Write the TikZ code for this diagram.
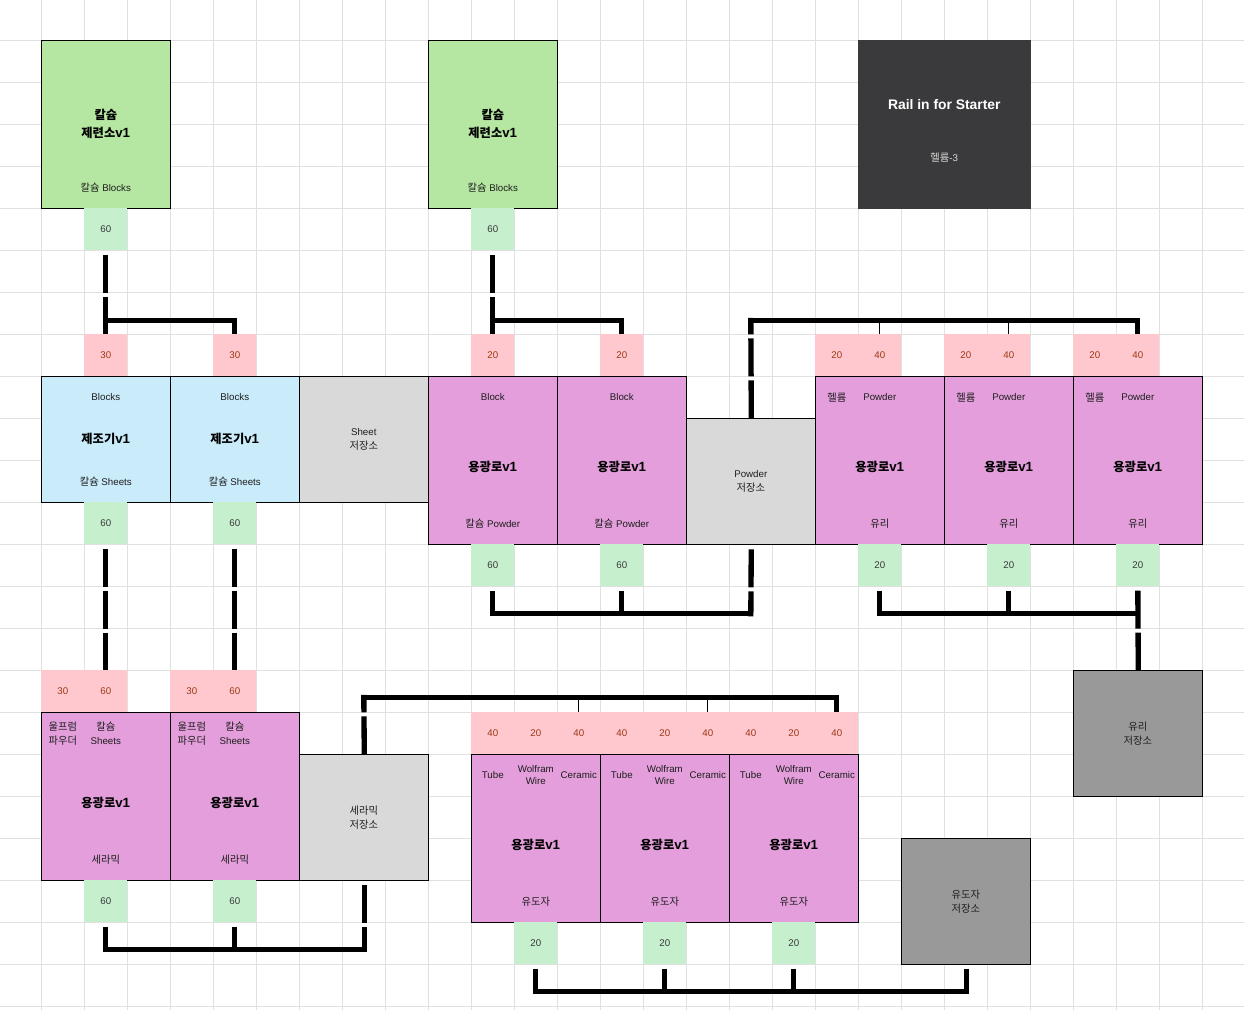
\documentclass[tikz,border=0pt]{standalone}
\usepackage{fontspec}
\setmainfont{Liberation Sans}
\newfontfamily\kr{Noto Sans CJK KR}[Scale=1.06]
\newfontfamily\krb{Noto Sans CJK KR}[Scale=0.92]
\definecolor{gbox}{HTML}{B5E6A2}
\definecolor{tagg}{HTML}{C6EFCE}
\definecolor{tagp}{HTML}{FFC7CE}
\definecolor{tagpt}{HTML}{9C3A14}
\definecolor{taggt}{HTML}{3A3A3A}
\definecolor{bbox}{HTML}{C9EBFA}
\definecolor{mbox}{HTML}{E39EDB}
\definecolor{lgray}{HTML}{D9D9D9}
\definecolor{dgray}{HTML}{999999}
\definecolor{darkbox}{HTML}{3A3A3C}
\definecolor{gridc}{HTML}{E0E0E0}
\definecolor{txt}{HTML}{1E1E1E}
\tikzset{
  cellw/.style={minimum width=#1*32.25pt},
  cellh/.style={minimum height=#1*31.5pt},
  box/.style={draw=black, line width=0.75pt, inner sep=0pt, anchor=north west},
  tagbase/.style={inner sep=0pt, minimum width=32.25pt, minimum height=31.5pt, font=\fontsize{7.3}{9}\selectfont},
  tagg/.style={tagbase, fill=tagg, text=taggt},
  tagp/.style={tagbase, fill=tagp, text=tagpt},
  lbl/.style={inner sep=0pt, align=center, text=txt, font=\fontsize{7.3}{10.5}\selectfont},
  lbltight/.style={inner sep=0pt, align=center, text=txt, font=\fontsize{7.3}{9}\selectfont},
  title/.style={inner sep=0pt, align=center, text=black, font=\fontsize{10}{13.5}\selectfont\bfseries},
  conn/.style={line width=4pt, line join=miter, black},
  vseg/.style={conn, dash pattern=on 28.5pt off 3pt, dash phase=#1},
  vseg/.default=28.5pt,
  thintick/.style={line width=1pt, black}
}
\begin{document}
\begin{tikzpicture}[x=32.25pt, y=-31.5pt]
\useasboundingbox (-0.96047,-0.95952) rectangle (27.9698,23.0881);
% grid
\foreach \i in {0,...,27} \draw[gridc, line width=0.75pt] (\i,-0.96) -- (\i,23.09);
\foreach \j in {0,...,23} \draw[gridc, line width=0.75pt] (-0.97,\j) -- (27.98,\j);

% ---------- top row ----------
\node[box, fill=gbox, cellw=3, cellh=4] (smA) at (0,0) {};
\node[title] (smAt) at (1.5,2) {{\krb 칼슘}\\{\krb 제련소}v1};
\node[lbl] (smAb) at (1.5,3.5) {{\kr 칼슘} Blocks};
\node[tagg] (gtA) at (1.5,4.5) {60};

\node[box, fill=gbox, cellw=3, cellh=4] (smB) at (9,0) {};
\node[title] (smBt) at (10.5,2) {{\krb 칼슘}\\{\krb 제련소}v1};
\node[lbl] (smBb) at (10.5,3.5) {{\kr 칼슘} Blocks};
\node[tagg] (gtB) at (10.5,4.5) {60};

\node[box, draw=darkbox, fill=darkbox, cellw=4, cellh=4] (rail) at (19,0) {};
\node[title, text=white, font=\fontsize{10.4}{13}\selectfont\bfseries] (railt) at (21,1.52) {Rail in for Starter};
\node[lbl, text=black!15] (railb) at (21,2.8) {{\kr 헬륨}-3};

% ---------- pink row r7 ----------
\node[tagp] (pA1) at (1.5,7.5) {30};
\node[tagp] (pA2) at (4.5,7.5) {30};
\node[tagp] (pB1) at (10.5,7.5) {20};
\node[tagp] (pB2) at (13.5,7.5) {20};
\node[tagp] (ph1a) at (18.5,7.5) {20};
\node[tagp] (ph1b) at (19.5,7.5) {40};
\node[tagp] (ph2a) at (21.5,7.5) {20};
\node[tagp] (ph2b) at (22.5,7.5) {40};
\node[tagp] (ph3a) at (24.5,7.5) {20};
\node[tagp] (ph3b) at (25.5,7.5) {40};

% ---------- row 8 machines ----------
\node[box, fill=bbox, cellw=3, cellh=3] (mk1) at (0,8) {};
\node[lbl] (mk1a) at (1.5,8.5) {Blocks};
\node[title] (mk1t) at (1.5,9.5) {{\krb 제조기}v1};
\node[lbl] (mk1b) at (1.5,10.5) {{\kr 칼슘} Sheets};

\node[box, fill=bbox, cellw=3, cellh=3] (mk2) at (3,8) {};
\node[lbl] (mk2a) at (4.5,8.5) {Blocks};
\node[title] (mk2t) at (4.5,9.5) {{\krb 제조기}v1};
\node[lbl] (mk2b) at (4.5,10.5) {{\kr 칼슘} Sheets};

\node[box, fill=lgray, cellw=3, cellh=3] (shs) at (6,8) {};
\node[lbl] (shst) at (7.5,9.5) {Sheet\\{\kr 저장소}};

\node[box, fill=mbox, cellw=3, cellh=4] (pf1) at (9,8) {};
\node[lbl] (pf1a) at (10.5,8.5) {Block};
\node[title] (pf1t) at (10.5,10.16) {{\krb 용광로}v1};
\node[lbl] (pf1b) at (10.5,11.5) {{\kr 칼슘} Powder};

\node[box, fill=mbox, cellw=3, cellh=4] (pf2) at (12,8) {};
\node[lbl] (pf2a) at (13.5,8.5) {Block};
\node[title] (pf2t) at (13.5,10.16) {{\krb 용광로}v1};
\node[lbl] (pf2b) at (13.5,11.5) {{\kr 칼슘} Powder};

\node[box, fill=lgray, cellw=3, cellh=3] (pws) at (15,9) {};
\node[lbl] (pwst) at (16.5,10.5) {Powder\\{\kr 저장소}};

\node[box, fill=mbox, cellw=3, cellh=4] (gf1) at (18,8) {};
\node[lbl] (gf1h) at (18.5,8.5) {{\kr 헬륨}};
\node[lbl] (gf1p) at (19.5,8.5) {Powder};
\node[title] (gf1t) at (19.5,10.16) {{\krb 용광로}v1};
\node[lbl] (gf1b) at (19.5,11.5) {{\kr 유리}};

\node[box, fill=mbox, cellw=3, cellh=4] (gf2) at (21,8) {};
\node[lbl] (gf2h) at (21.5,8.5) {{\kr 헬륨}};
\node[lbl] (gf2p) at (22.5,8.5) {Powder};
\node[title] (gf2t) at (22.5,10.16) {{\krb 용광로}v1};
\node[lbl] (gf2b) at (22.5,11.5) {{\kr 유리}};

\node[box, fill=mbox, cellw=3, cellh=4] (gf3) at (24,8) {};
\node[lbl] (gf3h) at (24.5,8.5) {{\kr 헬륨}};
\node[lbl] (gf3p) at (25.5,8.5) {Powder};
\node[title] (gf3t) at (25.5,10.16) {{\krb 용광로}v1};
\node[lbl] (gf3b) at (25.5,11.5) {{\kr 유리}};

% green tags
\node[tagg] (gS1) at (1.5,11.5) {60};
\node[tagg] (gS2) at (4.5,11.5) {60};
\node[tagg] (gP1) at (10.5,12.5) {60};
\node[tagg] (gP2) at (13.5,12.5) {60};
\node[tagg] (gG1) at (19.5,12.5) {20};
\node[tagg] (gG2) at (22.5,12.5) {20};
\node[tagg] (gG3) at (25.5,12.5) {20};

% glass storage
\node[box, fill=dgray, cellw=3, cellh=3] (gls) at (24,15) {};
\node[lbl] (glst) at (25.5,16.5) {{\kr 유리}\\{\kr 저장소}};

% ---------- lower left ----------
\node[tagp] (pc1a) at (0.5,15.5) {30};
\node[tagp] (pc1b) at (1.5,15.5) {60};
\node[tagp] (pc2a) at (3.5,15.5) {30};
\node[tagp] (pc2b) at (4.5,15.5) {60};

\node[box, fill=mbox, cellw=3, cellh=4] (cf1) at (0,16) {};
\node[lbl] (cf1a) at (0.5,16.5) {{\kr 울프럼}\\{\kr 파우더}};
\node[lbl] (cf1s) at (1.5,16.5) {{\kr 칼슘}\\Sheets};
\node[title] (cf1t) at (1.5,18.16) {{\krb 용광로}v1};
\node[lbl] (cf1b) at (1.5,19.5) {{\kr 세라믹}};

\node[box, fill=mbox, cellw=3, cellh=4] (cf2) at (3,16) {};
\node[lbl] (cf2a) at (3.5,16.5) {{\kr 울프럼}\\{\kr 파우더}};
\node[lbl] (cf2s) at (4.5,16.5) {{\kr 칼슘}\\Sheets};
\node[title] (cf2t) at (4.5,18.16) {{\krb 용광로}v1};
\node[lbl] (cf2b) at (4.5,19.5) {{\kr 세라믹}};

\node[box, fill=lgray, cellw=3, cellh=3] (cers) at (6,17) {};
\node[lbl] (cerst) at (7.5,18.5) {{\kr 세라믹}\\{\kr 저장소}};

\node[tagg] (gC1) at (1.5,20.5) {60};
\node[tagg] (gC2) at (4.5,20.5) {60};

% ---------- lower middle ----------
\node[tagp] (pi1) at (10.5,16.5) {40};
\node[tagp] (pi2) at (11.5,16.5) {20};
\node[tagp] (pi3) at (12.5,16.5) {40};
\node[tagp] (pi4) at (13.5,16.5) {40};
\node[tagp] (pi5) at (14.5,16.5) {20};
\node[tagp] (pi6) at (15.5,16.5) {40};
\node[tagp] (pi7) at (16.5,16.5) {40};
\node[tagp] (pi8) at (17.5,16.5) {20};
\node[tagp] (pi9) at (18.5,16.5) {40};

\node[box, fill=mbox, cellw=3, cellh=4] (if1) at (10,17) {};
\node[lbl] (if1a) at (10.5,17.5) {Tube};
\node[lbltight] (if1w) at (11.5,17.5) {Wolfram\\Wire};
\node[lbl] (if1c) at (12.5,17.5) {Ceramic};
\node[title] (if1t) at (11.5,19.16) {{\krb 용광로}v1};
\node[lbl] (if1b) at (11.5,20.5) {{\kr 유도자}};

\node[box, fill=mbox, cellw=3, cellh=4] (if2) at (13,17) {};
\node[lbl] (if2a) at (13.5,17.5) {Tube};
\node[lbltight] (if2w) at (14.5,17.5) {Wolfram\\Wire};
\node[lbl] (if2c) at (15.5,17.5) {Ceramic};
\node[title] (if2t) at (14.5,19.16) {{\krb 용광로}v1};
\node[lbl] (if2b) at (14.5,20.5) {{\kr 유도자}};

\node[box, fill=mbox, cellw=3, cellh=4] (if3) at (16,17) {};
\node[lbl] (if3a) at (16.5,17.5) {Tube};
\node[lbltight] (if3w) at (17.5,17.5) {Wolfram\\Wire};
\node[lbl] (if3c) at (18.5,17.5) {Ceramic};
\node[title] (if3t) at (17.5,19.16) {{\krb 용광로}v1};
\node[lbl] (if3b) at (17.5,20.5) {{\kr 유도자}};

\node[tagg] (gI1) at (11.5,21.5) {20};
\node[tagg] (gI2) at (14.5,21.5) {20};
\node[tagg] (gI3) at (17.5,21.5) {20};

\node[box, fill=dgray, cellw=3, cellh=3] (ind) at (20,19) {};
\node[lbl] (indt) at (21.5,20.5) {{\kr 유도자}\\{\kr 저장소}};

% ---------- connectors ----------
% calcium blocks A
\coordinate (jA) at (1.5,6.67);
\draw[vseg] (gtA.south) -- (pA1.north);
\draw[conn] (jA) -- (jA -| pA2.north);
\draw[conn] ([yshift=2pt]jA -| pA2.north) -- (pA2.north);
% calcium blocks B
\coordinate (jB) at (10.5,6.67);
\draw[vseg] (gtB.south) -- (pB1.north);
\draw[conn] (jB) -- (jB -| pB2.north);
\draw[conn] ([yshift=2pt]jB -| pB2.north) -- (pB2.north);
% powder to glass furnaces
\coordinate (jH) at (16.5,6.67);
\draw[conn] (jH) -- (jH -| ph3b.north);
\draw[vseg=16.1pt] ([yshift=2pt]jH) -- (pws.north);
\draw[conn] ([yshift=2pt]jH -| ph3b.north) -- (ph3b.north);
\draw[thintick] (ph1b.north |- jH) -- (ph1b.north);
\draw[thintick] (ph2b.north |- jH) -- (ph2b.north);
% powder outputs
\coordinate (jP) at (16.5,13.65);
\draw[conn] (jP -| gP1.south) -- (jP);
\draw[vseg] (pws.south) -- ([yshift=-2pt]jP);
\draw[vseg] (gP1.south) -- ([yshift=-2pt]jP -| gP1.south);
\draw[vseg] (gP2.south) -- (jP -| gP2.south);
% glass outputs
\coordinate (jG) at (19.5,13.65);
\draw[conn] (jG) -- (jG -| gG3.south);
\draw[vseg] (gG1.south) -- ([yshift=-2pt]jG);
\draw[vseg] (gG2.south) -- (jG -| gG2.south);
\draw[vseg] (gG3.south) -- (gls.north);
% calcium sheets
\draw[vseg] (gS1.south) -- (pc1b.north);
\draw[vseg] (gS2.south) -- (pc2b.north);
% ceramic outputs
\coordinate (jC) at (1.5,21.65);
\draw[conn] (jC) -- (jC -| cers.south);
\draw[vseg] (gC1.south) -- ([yshift=-2pt]jC);
\draw[vseg] (gC2.south) -- (jC -| gC2.south);
\draw[vseg] (cers.south) -- ([yshift=-2pt]jC -| cers.south);
% ceramic to induction furnaces
\coordinate (jT) at (7.5,15.65);
\draw[conn] (jT) -- (jT -| pi9.north);
\draw[vseg=15.5pt] ([yshift=2pt]jT) -- (cers.north);
\draw[conn] ([yshift=2pt]jT -| pi9.north) -- (pi9.north);
\draw[thintick] (pi3.north |- jT) -- (pi3.north);
\draw[thintick] (pi6.north |- jT) -- (pi6.north);
% inductor outputs
\coordinate (jI) at (11.5,22.65);
\draw[conn] (jI) -- (jI -| ind.south);
\draw[vseg] (gI1.south) -- ([yshift=-2pt]jI);
\draw[vseg] (gI2.south) -- (jI -| gI2.south);
\draw[vseg] (gI3.south) -- (jI -| gI3.south);
\draw[vseg] (ind.south) -- ([yshift=-2pt]jI -| ind.south);
\end{tikzpicture}
\end{document}
